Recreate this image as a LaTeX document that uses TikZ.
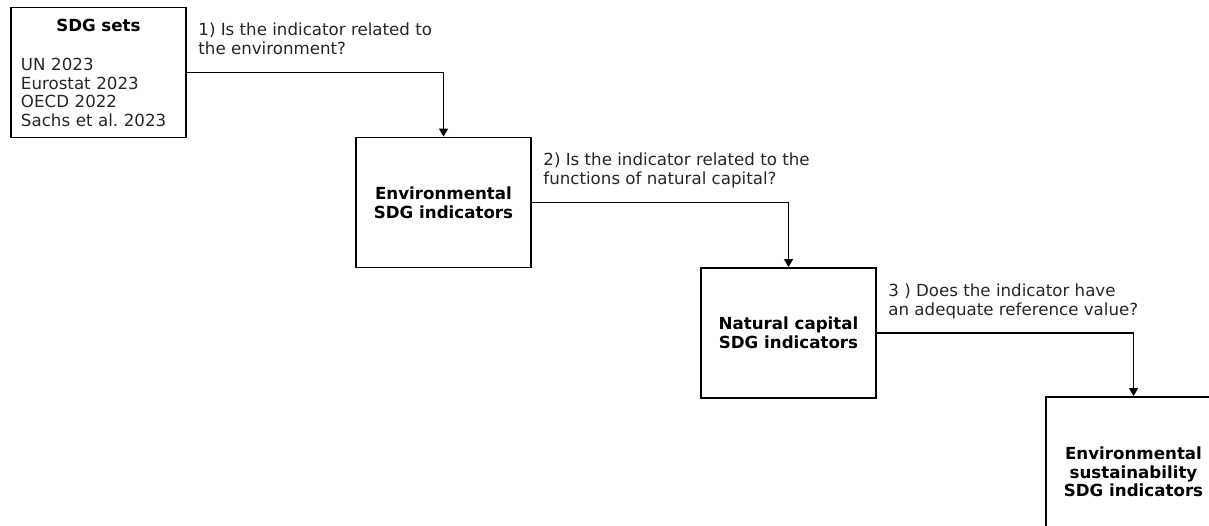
\documentclass[tikz,border=0pt]{standalone}
\usepackage{fontspec}
\setmainfont{DejaVu Sans}
\usetikzlibrary{arrows.meta,positioning}

\begin{document}
\begin{tikzpicture}[
  x=0.75pt, y=-0.75pt,
  font=\fontsize{12.5}{14}\selectfont,
  box/.style={rectangle, draw, line width=1.2pt, minimum width=131.25pt, minimum height=97.5pt, align=center, font=\fontsize{12.5}{14}\selectfont\bfseries},
  question/.style={align=left, inner sep=0pt, text=black!85, below right=12.2pt and 8.5pt of #1.north east},
  arrow/.style={-{Triangle[width=6.5pt,length=6pt]}, line width=1.2pt}
]
\useasboundingbox (0,0) rectangle (1209,525);
\clip (0,0) rectangle (1209,525);

% Source sets
\node[box, text width=116.25pt, align=left, font=\fontsize{12.5}{13.8}\selectfont, text=black!85] (sets) at (98.5,72.5)
  {\makebox[\hsize]{\color{black}\bfseries SDG sets}\\[16pt]UN 2023\\Eurostat 2023\\OECD 2022\\Sachs et al.\ 2023};

% Filtered indicator sets
\node[box] (env) at (443.5,202.5) {Environmental\\SDG indicators};
\node[box] (natcap) at (788.5,333) {Natural capital\\SDG indicators};
\node[box, minimum height=112.5pt] (envsust) at (1133.5,472) {Environmental\\sustainability\\SDG indicators};

% Questions
\node[question=sets] (q1) {1) Is the indicator related to\\the environment?};
\node[question=env] (q2) {2) Is the indicator related to the\\functions of natural capital?};
\node[question=natcap] (q3) {3 ) Does the indicator have\\an adequate reference value?};

% Arrows
\draw[arrow] (sets) -| (env);
\draw[arrow] (env) -| (natcap);
\draw[arrow] (natcap) -| (envsust);

\end{tikzpicture}
\end{document}
